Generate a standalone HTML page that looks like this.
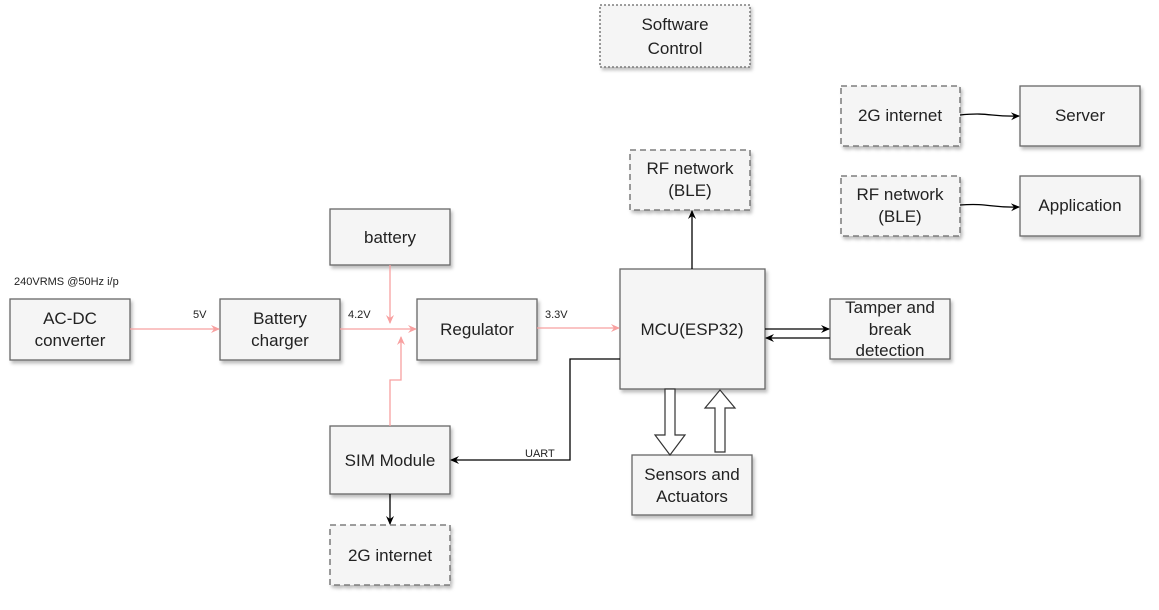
<!DOCTYPE html>
<html><head><style>
body{margin:0;background:#fff;}
svg text{font-family:"Liberation Sans",Arial,sans-serif;}
</style></head><body>
<svg width="1159" height="605" viewBox="0 0 1159 605" xmlns="http://www.w3.org/2000/svg">
<defs>
<filter id="sh" x="-10%" y="-10%" width="130%" height="130%"><feDropShadow dx="2" dy="3" stdDeviation="1.5" flood-color="#000" flood-opacity="0.25"/></filter>
<marker id="ab" markerWidth="10" markerHeight="10" refX="8" refY="5" orient="auto" markerUnits="userSpaceOnUse"><path d="M0,1 L9,5 L0,9 L3,5 z" fill="#000"/></marker>
<marker id="ap" markerWidth="10" markerHeight="10" refX="8" refY="5" orient="auto" markerUnits="userSpaceOnUse"><path d="M0,1 L9,5 L0,9 L3,5 z" fill="#f8a0a0"/></marker>
</defs>
<g fill="#f5f5f5" stroke="#666" stroke-width="1.3" filter="url(#sh)">
<rect x="600" y="5" width="150" height="62" stroke-dasharray="2,2"/>
<rect x="841" y="86" width="119" height="60" stroke-dasharray="6,4"/>
<rect x="1020" y="86" width="120" height="60"/>
<rect x="841" y="176" width="119" height="60" stroke-dasharray="6,4"/>
<rect x="1020" y="176" width="120" height="60"/>
<rect x="630" y="150" width="120" height="60" stroke-dasharray="6,4"/>
<rect x="330" y="209" width="120" height="56"/>
<rect x="10" y="299" width="120" height="61"/>
<rect x="220" y="299" width="120" height="61"/>
<rect x="417" y="299" width="120" height="61"/>
<rect x="620" y="269" width="145" height="120"/>
<rect x="830" y="299" width="120" height="60"/>
<rect x="632" y="455" width="120" height="60"/>
<rect x="330" y="426" width="120" height="68"/>
<rect x="330" y="525" width="120" height="60" stroke-dasharray="6,4"/>
</g>
<g font-size="17" fill="#222" text-anchor="middle">
<text x="675" y="30">Software</text><text x="675" y="54">Control</text>
<text x="900" y="121">2G internet</text>
<text x="1080" y="121">Server</text>
<text x="900" y="200">RF network</text><text x="900" y="222">(BLE)</text>
<text x="1080" y="211">Application</text>
<text x="690" y="174">RF network</text><text x="690" y="196">(BLE)</text>
<text x="390" y="243">battery</text>
<text x="70" y="324">AC-DC</text><text x="70" y="346">converter</text>
<text x="280" y="324">Battery</text><text x="280" y="346">charger</text>
<text x="477" y="335">Regulator</text>
<text x="692" y="335">MCU(ESP32)</text>
<text x="890" y="313">Tamper and</text><text x="890" y="335">break</text><text x="890" y="356">detection</text>
<text x="692" y="480">Sensors and</text><text x="692" y="502">Actuators</text>
<text x="390" y="466">SIM Module</text>
<text x="390" y="561">2G internet</text>
</g>
<g font-size="11" fill="#222">
<text x="14" y="285">240VRMS @50Hz i/p</text>
<text x="193" y="318">5V</text>
<text x="348" y="318">4.2V</text>
<text x="545" y="318">3.3V</text>
<text x="525" y="457">UART</text>
</g>
<g stroke="#f8a0a0" stroke-width="1.3" fill="none">
<path d="M130,329 H219" marker-end="url(#ap)"/>
<path d="M340,329 H416" marker-end="url(#ap)"/>
<path d="M390,265 V323" marker-end="url(#ap)"/>
<path d="M390,426 V380 H401 V337" marker-end="url(#ap)"/>
<path d="M537,328 H619" marker-end="url(#ap)"/>
</g>
<g stroke="#000" stroke-width="1.3" fill="none">
<path d="M620,359 H570 V460 H451" marker-end="url(#ab)"/>
<path d="M390,494 V524" marker-end="url(#ab)"/>
<path d="M692,269 V211" marker-end="url(#ab)"/>
<path d="M765,329 H829" marker-end="url(#ab)"/>
<path d="M830,338 H766" marker-end="url(#ab)"/>
<path d="M960,115 C990,112 990,117 1019,116" marker-end="url(#ab)"/>
<path d="M960,205 C990,203 990,208 1019,207" marker-end="url(#ab)"/>
</g>
<g fill="#fff" stroke="#333" stroke-width="1.2">
<path d="M665,389 H675 V435 H685 L670,455 L655,435 H665 z"/>
<path d="M715,452 H725 V408 H735 L720,390 L705,408 H715 z"/>
</g>
</svg>
</body></html>
